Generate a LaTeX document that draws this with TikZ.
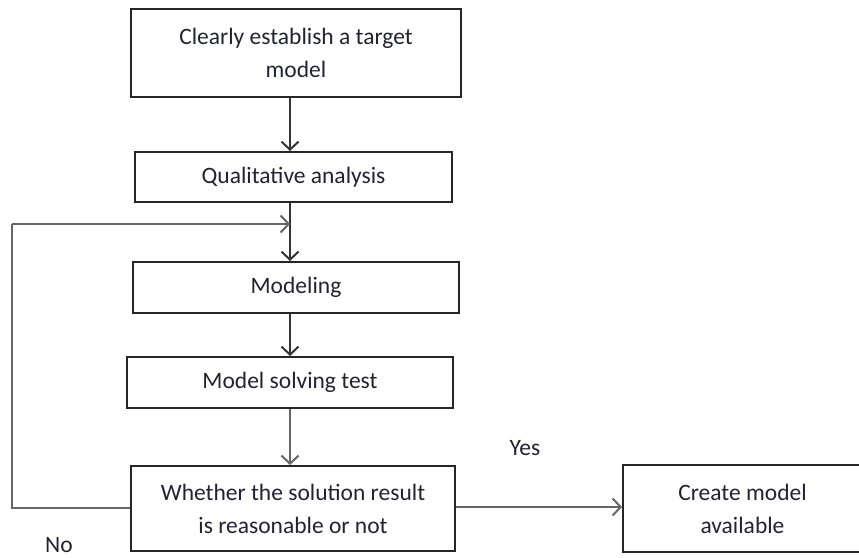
\documentclass[tikz,border=0pt]{standalone}
\usepackage{fontspec}
\setmainfont{Carlito}
\usetikzlibrary{arrows.meta}
\definecolor{txt}{HTML}{222233}
\begin{document}
\begin{tikzpicture}[x=1pt,y=-1pt,
  box/.style={draw=black!85,line width=2pt,minimum width=#1,inner sep=0pt,align=center,text=txt,font=\fontsize{23.5}{33}\selectfont},
  arr/.style={draw=black!80,line width=2pt,-{Straight Barb[length=8pt,width=17pt,line width=2pt]}},
  fb/.style={draw=black!60,line width=2.2pt},
  lbl/.style={text=txt,font=\fontsize{23.5}{33}\selectfont,inner sep=0pt}]
\useasboundingbox (0,0) rectangle (859,557);
\node[box=330pt,minimum height=88pt] (b1) at (296,53) {Clearly establish a target\\model};
\node[box=317pt,minimum height=50pt] (b2) at (293.5,177) {Qualitative analysis};
\node[box=326pt,minimum height=51pt] (b3) at (296,287.5) {Modeling};
\node[box=326pt,minimum height=51pt] (b4) at (290,382.5) {Model solving test};
\node[box=324pt,minimum height=85pt] (b5) at (293,508.5) {Whether the solution result\\is reasonable or not};
\node[box=239pt,minimum height=87pt] (b6) at (742.5,508.5) {Create model\\available};
\node[lbl] (yes) at (525,448) {Yes};
\node[lbl] (no) at (59,545) {No};
\coordinate (c1) at (12,508);
\coordinate (c2) at (12,224);
\coordinate (c3) at (290,224);
\draw[arr] (b1.south -| c3) -- (b2.north -| c3);
\draw[arr] (b2.south -| c3) -- (b3.north -| c3);
\draw[arr] (b3.south -| c3) -- (b4.north -| c3);
\draw[arr,draw=black!60] (b4.south -| c3) -- (b5.north -| c3);
\draw[fb] (b5.west |- c1) -- (c1) -- (c2);
\draw[arr,draw=black!60] (c2) -- (c3);
\draw[arr,draw=black!60] (b5.east |- 0,507) -- (b6.west |- 0,507);
\end{tikzpicture}
\end{document}
